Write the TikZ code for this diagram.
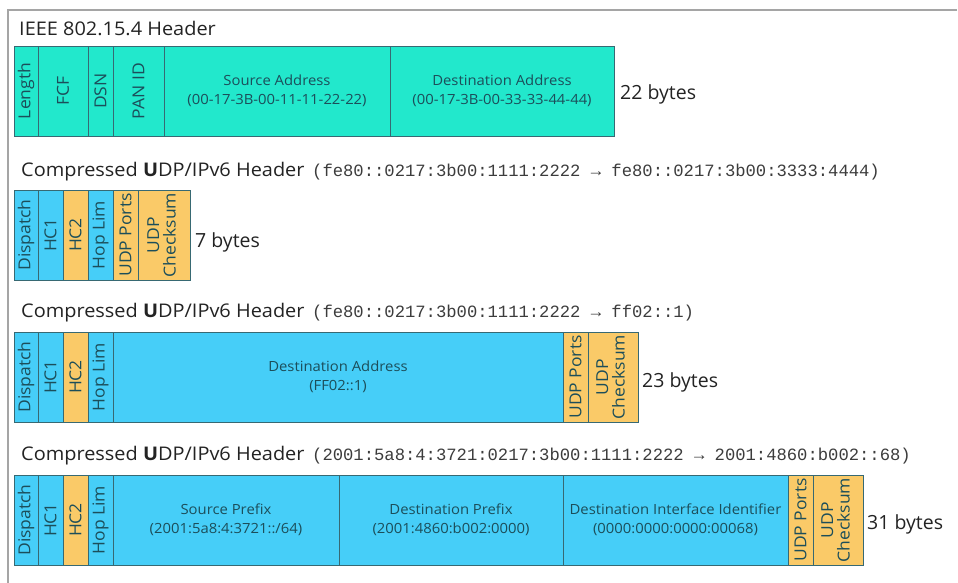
\documentclass[tikz,border=0pt]{standalone}
\usepackage{fontspec}
\setmainfont{Open Sans}[FakeStretch=1.06]
\newfontfamily\sizefont{Open Sans}
\newfontfamily\addrfont{Liberation Mono}

\definecolor{macfill}{RGB}{34,232,204}
\definecolor{ipfill}{RGB}{70,206,248}
\definecolor{udpfill}{RGB}{250,202,104}
\definecolor{fieldline}{RGB}{55,105,115}
\definecolor{fieldtext}{RGB}{28,78,90}
\definecolor{frameline}{RGB}{165,165,165}
\definecolor{titletext}{RGB}{35,35,35}
\definecolor{addrtext}{RGB}{60,60,60}

% one header field: name, left x, right x, top y, fill, content
\newcommand\fieldat[6]{%
  \node[fieldbox, fill=#5, minimum width={(#3-#2)*1pt}] (#1) at (#2,#4) {#6};}
% upright-reading labels for the narrow fields
\newcommand\vlabel[1]{\rotatebox{90}{\fontsize{16.5}{17}\selectfont #1}}
\newcommand\vpair[2]{\rotatebox{90}{\fontsize{16.5}{17}\selectfont
  \begin{tabular}{@{}c@{}}#1\\[-1pt]#2\end{tabular}}}

\begin{document}
\begin{tikzpicture}[x=1pt, y=-1pt,
  fieldbox/.style={draw=fieldline, line width=0.9pt, inner sep=0pt, outer sep=0pt,
    minimum height=90pt, anchor=north west, text=fieldtext, align=center,
    font=\fontsize{14}{19}\selectfont},
  rowtitle/.style={anchor=base west, inner sep=0pt, text=titletext,
    font=\fontsize{18.8}{22}\selectfont},
  addr/.style={anchor=base west, inner sep=0pt, text=addrtext,
    font=\addrfont\fontsize{17.2}{20}\selectfont},
  size/.style={anchor=base west, inner sep=0pt, text=titletext,
    font=\sizefont\fontsize{19.5}{24}\selectfont}]

\useasboundingbox (0,0) rectangle (958,583);

% page frame
\coordinate (frameTR) at (957,10);
\coordinate (frameTL) at (8,10);
\coordinate (frameBL) at (8,583);
\draw[frameline, line width=2pt] (frameTR) -- (frameTL) -- (frameBL);

% ---- IEEE 802.15.4 header ----
\node[rowtitle] (t1) at (19,36) {IEEE 802.15.4 Header};
\fieldat{aLen}{14}{38}{46}{macfill}{\vlabel{Length}}
\fieldat{aFcf}{38}{88}{46}{macfill}{\vlabel{FCF}}
\fieldat{aDsn}{88}{113}{46}{macfill}{\vlabel{DSN}}
\fieldat{aPan}{113}{164}{46}{macfill}{\vlabel{PAN ID}}
\fieldat{aSrc}{164}{390}{46}{macfill}{Source Address\\(00-17-3B-00-11-11-22-22)}
\fieldat{aDst}{390}{614}{46}{macfill}{Destination Address\\(00-17-3B-00-33-33-44-44)}
\node[size] (s1) at (620,100) {22 bytes};

% ---- link-local to link-local ----
\node[rowtitle] (t2) at (21,176) {Compressed \textbf{U}DP/IPv6 Header};
\node[addr] (d2) at (312,176) {(fe80::0217:3b00:1111:2222 → fe80::0217:3b00:3333:4444)};
\fieldat{bDis}{14}{38}{190}{ipfill}{\vlabel{Dispatch}}
\fieldat{bHc1}{38}{63}{190}{ipfill}{\vlabel{HC1}}
\fieldat{bHc2}{63}{88}{190}{udpfill}{\vlabel{HC2}}
\fieldat{bHop}{88}{113}{190}{ipfill}{\vlabel{Hop Lim}}
\fieldat{bPort}{113}{138}{190}{udpfill}{\vlabel{UDP Ports}}
\fieldat{bSum}{138}{190}{190}{udpfill}{\vpair{UDP}{Checksum}}
\node[size] (s2) at (195,247) {7 bytes};

% ---- link-local to multicast ----
\node[rowtitle] (t3) at (21,317) {Compressed \textbf{U}DP/IPv6 Header};
\node[addr] (d3) at (312,317) {(fe80::0217:3b00:1111:2222 → ff02::1)};
\fieldat{cDis}{14}{38}{332}{ipfill}{\vlabel{Dispatch}}
\fieldat{cHc1}{38}{63}{332}{ipfill}{\vlabel{HC1}}
\fieldat{cHc2}{63}{88}{332}{udpfill}{\vlabel{HC2}}
\fieldat{cHop}{88}{113}{332}{ipfill}{\vlabel{Hop Lim}}
\fieldat{cDst}{113}{563}{332}{ipfill}{Destination Address\\(FF02::1)}
\fieldat{cPort}{563}{588}{332}{udpfill}{\vlabel{UDP Ports}}
\fieldat{cSum}{588}{638}{332}{udpfill}{\vpair{UDP}{Checksum}}
\node[size] (s3) at (642,387) {23 bytes};

% ---- global to global ----
\node[rowtitle] (t4) at (21,460) {Compressed \textbf{U}DP/IPv6 Header};
\node[addr] (d4) at (312,460) {(2001:5a8:4:3721:0217:3b00:1111:2222 → 2001:4860:b002::68)};
\fieldat{eDis}{14}{38}{475}{ipfill}{\vlabel{Dispatch}}
\fieldat{eHc1}{38}{63}{475}{ipfill}{\vlabel{HC1}}
\fieldat{eHc2}{63}{88}{475}{udpfill}{\vlabel{HC2}}
\fieldat{eHop}{88}{113}{475}{ipfill}{\vlabel{Hop Lim}}
\fieldat{eSrc}{113}{339}{475}{ipfill}{Source Prefix\\(2001:5a8:4:3721::/64)}
\fieldat{eDst}{339}{563}{475}{ipfill}{Destination Prefix\\(2001:4860:b002:0000)}
\fieldat{eIid}{563}{788}{475}{ipfill}{Destination Interface Identifier\\(0000:0000:0000:00068)}
\fieldat{ePort}{788}{813}{475}{udpfill}{\vlabel{UDP Ports}}
\fieldat{eSum}{813}{863}{475}{udpfill}{\vpair{UDP}{Checksum}}
\node[size] (s4) at (867,529) {31 bytes};

\end{tikzpicture}
\end{document}
